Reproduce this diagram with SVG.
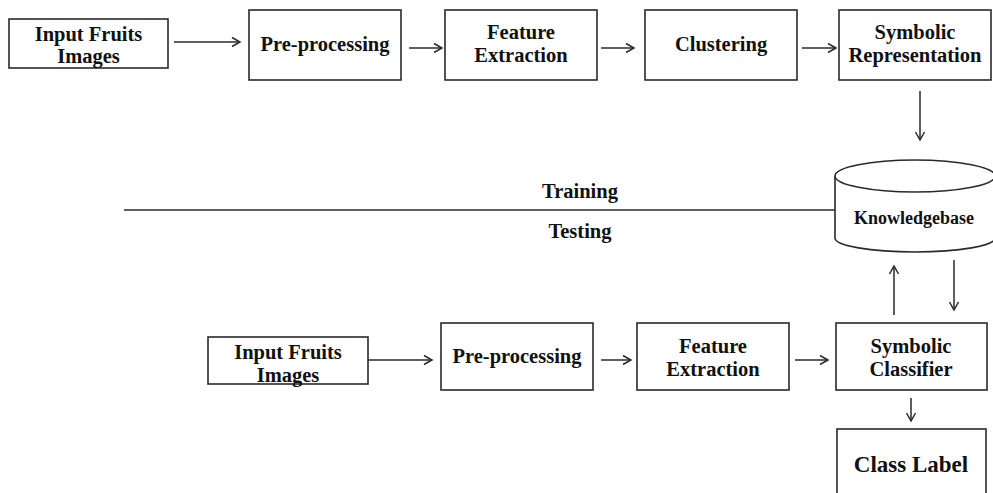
<svg xmlns="http://www.w3.org/2000/svg" width="993" height="493" viewBox="0 0 993 493">
<style>
.box{fill:#fff;stroke:#2a2a2a;stroke-width:1.6}
.t{font-family:"Liberation Serif","Times New Roman",serif;font-weight:bold;font-size:20.5px;fill:#111;text-anchor:middle}
.c{stroke:#2a2a2a;stroke-width:1.5;fill:none}
.a{marker-end:url(#arr)}
</style>
<defs>
<marker id="arr" markerUnits="userSpaceOnUse" markerWidth="12" markerHeight="12" refX="9" refY="6" orient="auto">
<path d="M1,1.5 L9,6 L1,10.5" fill="none" stroke="#2a2a2a" stroke-width="1.5"/>
</marker>
</defs>
<rect width="993" height="493" fill="#fff"/>

<g id="train-input"><rect class="box" x="9" y="19" width="159" height="49"/><text class="t" x="88.5" y="41">Input Fruits</text><text class="t" x="88.5" y="63">Images</text></g>
<g id="train-pre"><rect class="box" x="249" y="10" width="152" height="70"/><text class="t" x="325" y="51">Pre-processing</text></g>
<g id="train-feat"><rect class="box" x="445" y="10" width="152" height="70"/><text class="t" x="521" y="39">Feature</text><text class="t" x="521" y="62">Extraction</text></g>
<g id="train-clust"><rect class="box" x="645" y="10" width="152" height="70"/><text class="t" x="721" y="51">Clustering</text></g>
<g id="train-symrep"><rect class="box" x="839" y="10" width="152" height="70"/><text class="t" x="915" y="39">Symbolic</text><text class="t" x="915" y="62">Representation</text></g>

<g id="knowledgebase">
<path class="box" d="M835,176 V238 A80,14 0 0 0 995,238 V176"/>
<ellipse class="box" cx="915" cy="176" rx="80" ry="16"/>
<text class="t" x="914" y="224" style="font-size:18px">Knowledgebase</text>
</g>

<g id="divider">
<line class="c" x1="124" y1="210" x2="835" y2="210"/>
<text class="t" x="580" y="198">Training</text>
<text class="t" x="580" y="238">Testing</text>
</g>

<g id="test-input"><rect class="box" x="208" y="337" width="160" height="47"/><text class="t" x="288" y="359">Input Fruits</text><text class="t" x="288" y="382">Images</text></g>
<g id="test-pre"><rect class="box" x="441" y="323" width="152" height="67"/><text class="t" x="517" y="363">Pre-processing</text></g>
<g id="test-feat"><rect class="box" x="637" y="323" width="152" height="67"/><text class="t" x="713" y="353">Feature</text><text class="t" x="713" y="376">Extraction</text></g>
<g id="test-symcls"><rect class="box" x="836" y="323" width="151" height="67"/><text class="t" x="911" y="353">Symbolic</text><text class="t" x="911" y="376">Classifier</text></g>
<g id="class-label"><rect class="box" x="837" y="429" width="149" height="70"/><text class="t" x="911" y="472" style="font-size:23px">Class Label</text></g>

<g id="connectors">
<line class="c a" x1="174" y1="42" x2="240" y2="42"/>
<line class="c a" x1="409" y1="48" x2="442" y2="48"/>
<line class="c a" x1="601" y1="48" x2="634" y2="48"/>
<line class="c a" x1="802" y1="48" x2="836" y2="48"/>
<line class="c a" x1="920" y1="91" x2="920" y2="140"/>
<line class="c a" x1="894" y1="315" x2="894" y2="266"/>
<line class="c a" x1="954" y1="260" x2="954" y2="310"/>
<line class="c a" x1="368" y1="360" x2="432" y2="360"/>
<line class="c a" x1="601" y1="360" x2="631" y2="360"/>
<line class="c a" x1="795" y1="360" x2="828" y2="360"/>
<line class="c a" x1="911" y1="398" x2="911" y2="421"/>
</g>
</svg>
